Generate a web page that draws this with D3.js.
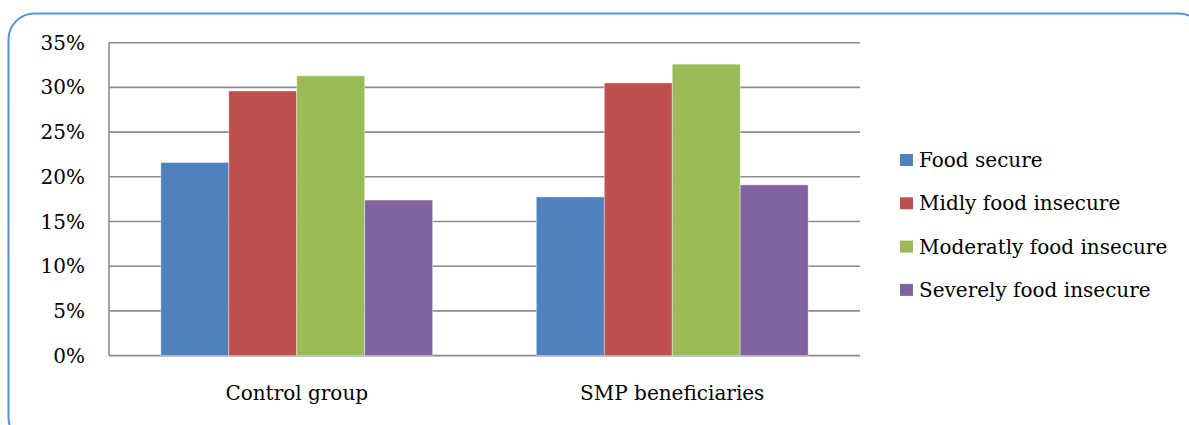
<!DOCTYPE html>
<html><head><meta charset="utf-8">
<script src="https://cdn.jsdelivr.net/npm/d3@7"></script>
<style>body{margin:0;background:#fff;}svg{display:block;}</style>
</head><body>
<svg id="c" width="1189" height="425"></svg>
<script>
const categories = ["Control group", "SMP beneficiaries"];
const seriesNames = ["Food secure", "Midly food insecure", "Moderatly food insecure", "Severely food insecure"];
const foodSecure = [21.6, 17.75];
const midly = [29.6, 30.5];
const moderatly = [31.3, 32.6];
const severely = [17.4, 19.1];
const yTicks = [0, 5, 10, 15, 20, 25, 30, 35];
const colors = ["#4F81BD", "#C0504D", "#9BBB59", "#8064A2"];

const seriesValues = [foodSecure, midly, moderatly, severely];
const font = "'DejaVu Serif', 'Liberation Serif', serif";
const svg = d3.select("#c");

svg.append("rect").attr("x", 8.5).attr("y", 13.5).attr("width", 1196).attr("height", 430)
  .attr("rx", 26).attr("fill", "none").attr("stroke", "#5B8FD8").attr("stroke-width", 2);

const L = 109, R = 860, T = 42.7, B = 355.6;
const x0 = d3.scaleBand().domain(categories).range([L, R]).paddingInner(0.276).paddingOuter(0.138);
const x1 = d3.scaleBand().domain(seriesNames).range([0, x0.bandwidth()]);
const y = d3.scaleLinear().domain([0, 35]).range([B, T]);

// gridlines
svg.append("g").selectAll("line").data(yTicks).join("line")
  .attr("x1", L).attr("x2", R).attr("y1", d => y(d)).attr("y2", d => y(d))
  .attr("stroke", "#8c8c8c").attr("stroke-width", 1.6);
svg.append("line").attr("x1", L).attr("x2", L).attr("y1", T).attr("y2", B)
  .attr("stroke", "#8c8c8c").attr("stroke-width", 1.6);

// y labels
svg.append("g").selectAll("text").data(yTicks).join("text")
  .attr("x", 85).attr("y", d => y(d)).attr("dy", "0.35em").attr("text-anchor", "end")
  .attr("font-family", font).attr("font-size", 20).attr("fill", "#000").text(d => d + "%");

// bars
const groups = svg.append("g").selectAll("g").data(categories).join("g")
  .attr("transform", d => `translate(${x0(d)},0)`);
groups.selectAll("rect").data((c, ci) => seriesNames.map((s, si) => ({s, si, v: seriesValues[si][ci]})))
  .join("rect")
  .attr("x", d => x1(d.s)).attr("width", x1.bandwidth())
  .attr("y", d => y(d.v)).attr("height", d => B - y(d.v))
  .attr("fill", d => colors[d.si]).attr("stroke", "rgba(255,255,255,0.5)").attr("stroke-width", 0.8);

// category labels
svg.append("g").selectAll("text").data(categories).join("text")
  .attr("x", d => x0(d) + x0.bandwidth() / 2).attr("y", 400).attr("text-anchor", "middle")
  .attr("font-family", font).attr("font-size", 20).attr("fill", "#000").text(d => d);

// legend
const leg = svg.append("g").selectAll("g").data(seriesNames).join("g")
  .attr("transform", (d, i) => `translate(900,${160 + i * 43.3})`);
leg.append("rect").attr("x", 0).attr("y", -6).attr("width", 13).attr("height", 12)
  .attr("fill", (d, i) => colors[i]);
leg.append("text").attr("x", 19).attr("y", 0).attr("dy", "0.35em")
  .attr("font-family", font).attr("font-size", 20).attr("fill", "#000").text(d => d);
</script>
</body></html>
